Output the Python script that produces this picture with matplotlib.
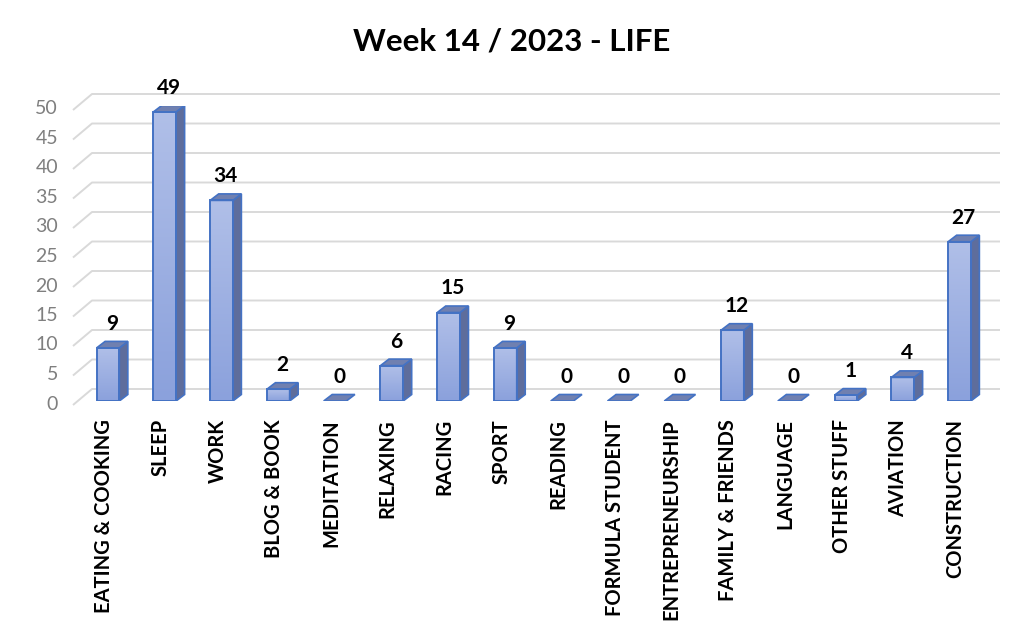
import matplotlib
matplotlib.use('Agg')
from matplotlib import pyplot as plt
from matplotlib.patches import Polygon, Rectangle
import numpy as np

categories = ['EATING & COOKING', 'SLEEP', 'WORK', 'BLOG & BOOK', 'MEDITATION',
              'RELAXING', 'RACING', 'SPORT', 'READING', 'FORMULA STUDENT',
              'ENTREPRENEURSHIP', 'FAMILY & FRIENDS', 'LANGUAGE', 'OTHER STUFF',
              'AVIATION', 'CONSTRUCTION']
hours = [9, 49, 34, 2, 0, 6, 15, 9, 0, 0, 0, 12, 0, 1, 4, 27]
yticks = [0, 5, 10, 15, 20, 25, 30, 35, 40, 45, 50]

plt.rcParams['font.family'] = ['Lato', 'DejaVu Sans']

W, H = 1024, 635
fig = plt.figure(figsize=(W / 100, H / 100), dpi=100)
# front plane of the bars: x -0.5..15.5 -> 79.6..987.9 px, y 0..50 -> 401..106 px
left_px, right_px, y0_px, y50_px = 79.6, 987.9, 401, 106
ax = fig.add_axes([left_px / W, (H - y0_px) / H, (right_px - left_px) / W, (y0_px - y50_px) / H])
n = len(categories)
ax.set_xlim(-0.5, n - 0.5)
ax.set_ylim(0, 50)
ax.axis('off')

ppx = (right_px - left_px) / n      # pixels per category
ppy = (y0_px - y50_px) / 50.0       # pixels per unit


def px2x(px):
    return -0.5 + (px - left_px) / ppx


# back wall gridlines with the little perspective kink on the left
for t in yticks:
    yf = t - 4 / ppy
    yb = t + 12 / ppy
    ax.plot([px2x(73), px2x(92), px2x(1000)], [yf, yb, yb], color='#d9d9d9',
            lw=1.4, clip_on=False, zorder=1, solid_capstyle='butt')
    ax.text(px2x(58), t - 3 / ppy, str(t), ha='right', va='center', fontsize=14,
            color='#7f7f7f')

# pseudo 3d bars
bw = 0.4
dx = 8.5 / ppx
dy = 6.5 / ppy
edge = '#4472c4'
grad = np.linspace(1, 0, 64).reshape(-1, 1)
cmap = matplotlib.colors.LinearSegmentedColormap.from_list('b', ['#8ba1dc', '#b0bfe8'])
for i, v in enumerate(hours):
    x0, x1 = i - bw / 2, i + bw / 2
    if v > 0:
        ax.imshow(grad, extent=[x0, x1, 0, v], aspect='auto', cmap=cmap, zorder=3,
                  origin='upper', interpolation='bilinear')
        ax.add_patch(Rectangle((x0, 0), bw, v, fill=False, ec=edge, lw=1.4, zorder=4))
        ax.add_patch(Polygon([(x1, 0), (x1 + dx, dy), (x1 + dx, v + dy), (x1, v)],
                             closed=True, fc='#5e6d9c', ec=edge, lw=1.2, zorder=3))
    ax.add_patch(Polygon([(x0, v), (x0 + dx, v + dy), (x1 + dx, v + dy), (x1, v)],
                         closed=True, fc='#7080b0', ec=edge, lw=1.2, zorder=3))
    ax.annotate(str(v), (i + dx / 2, v), xytext=(0, 13), textcoords='offset points',
                ha='center', va='baseline', fontsize=15, fontweight='bold', color='black',
                annotation_clip=False)
    ax.annotate(categories[i], (i, 0), xytext=(-3, -13), textcoords='offset points',
                ha='center', va='top', rotation=90, fontsize=14.5, fontweight='bold',
                color='black', annotation_clip=False)

ax.set_xlim(-0.5, n - 0.5)
ax.set_ylim(0, 50)

fig.text(0.5, 1 - 42 / H, 'Week 14 / 2023 - LIFE', ha='center', va='center',
         fontsize=22.5, fontweight='bold', color='black')

fig.savefig('out.png', dpi=100)
